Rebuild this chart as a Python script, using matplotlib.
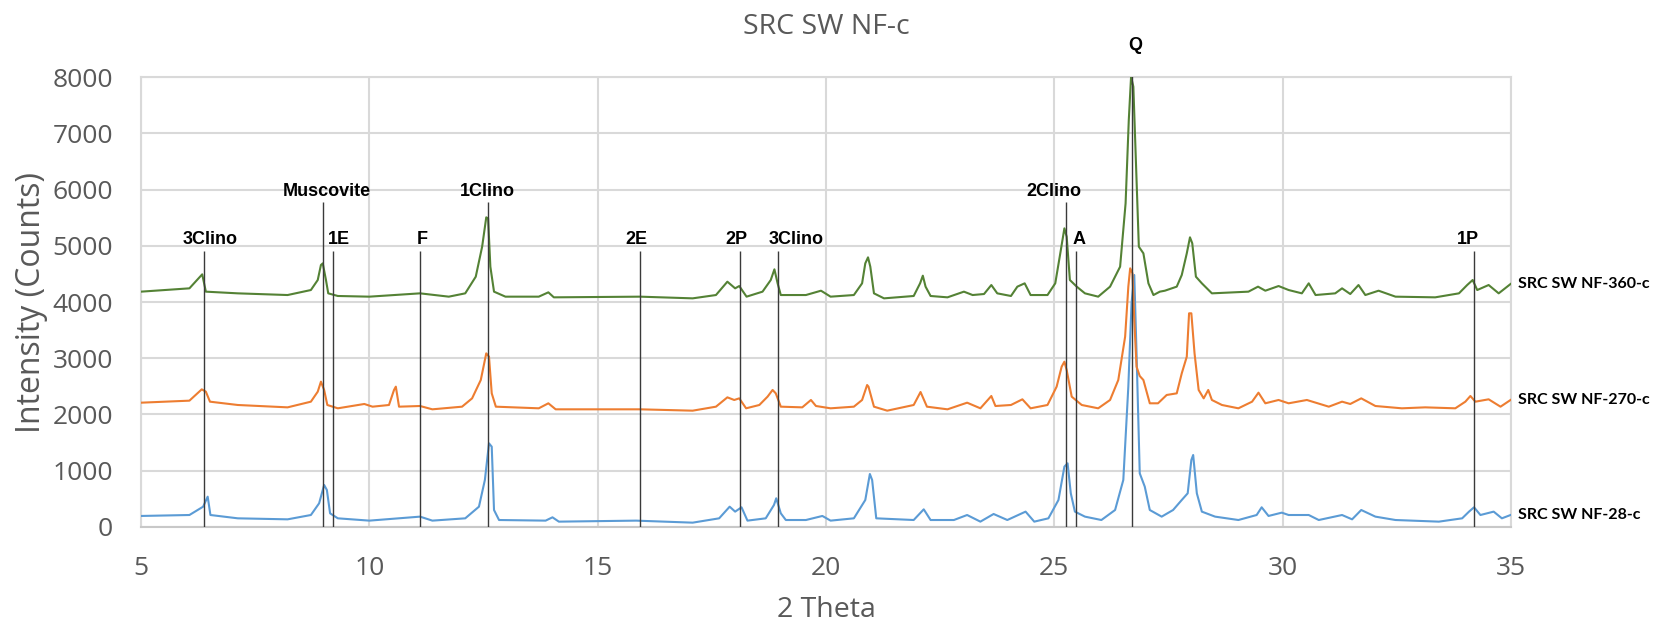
import matplotlib
matplotlib.use('Agg')
import matplotlib.pyplot as plt

# 2 theta / intensity points, one pair of lists per sample
x_360 = [5.00, 6.06, 6.34, 6.42, 7.12, 8.21, 8.72, 8.87, 8.94, 8.98, 9.05, 9.10, 9.31, 10.00,
         11.11, 11.74, 12.10, 12.33, 12.47, 12.56, 12.60, 12.65, 12.73, 12.98, 13.71, 13.92,
         14.04, 15.93, 17.08, 17.59, 17.84, 18.01, 18.10, 18.26, 18.61, 18.79, 18.87, 18.94,
         19.01, 19.56, 19.89, 20.10, 20.61, 20.79, 20.86, 20.92, 20.97, 21.05, 21.27, 21.92,
         22.06, 22.12, 22.18, 22.29, 22.66, 23.02, 23.21, 23.46, 23.62, 23.75, 24.05, 24.19,
         24.35, 24.48, 24.85, 25.02, 25.13, 25.22, 25.27, 25.34, 25.49, 25.67, 25.96, 26.22,
         26.44, 26.56, 26.63, 26.68, 26.73, 26.78, 26.85, 26.95, 27.06, 27.17, 27.31, 27.42,
         27.68, 27.79, 27.90, 27.97, 28.02, 28.10, 28.23, 28.45, 29.25, 29.46, 29.62, 29.91,
         30.13, 30.42, 30.57, 30.72, 31.15, 31.30, 31.48, 31.66, 31.81, 32.10, 32.47, 33.34,
         33.86, 34.04, 34.16, 34.26, 34.51, 34.73, 34.99]
y_360 = [4184, 4243, 4492, 4184, 4154, 4124, 4213, 4391, 4658, 4687, 4391, 4154, 4107, 4095,
         4154, 4095, 4154, 4450, 4984, 5505, 5487, 4628, 4184, 4095, 4095, 4172,
         4083, 4095, 4065, 4124, 4361, 4243, 4284, 4095, 4184, 4391, 4581, 4332,
         4124, 4124, 4201, 4095, 4124, 4332, 4687, 4794, 4628, 4154, 4065, 4107,
         4332, 4468, 4273, 4107, 4083, 4184, 4124, 4142, 4302, 4154, 4107, 4273,
         4332, 4124, 4124, 4332, 4865, 5310, 5161, 4391, 4273, 4154, 4095, 4273,
         4628, 5754, 7236, 8006, 7828, 6643, 4984, 4865, 4332, 4124, 4184, 4201,
         4273, 4480, 4865, 5150, 5043, 4450, 4332, 4154, 4184, 4273, 4201, 4284,
         4213, 4154, 4332, 4124, 4154, 4243, 4142, 4302, 4124, 4201, 4095, 4083,
         4154, 4302, 4391, 4213, 4302, 4154, 4320]

x_270 = [5.00, 6.06, 6.33, 6.42, 6.51, 7.12, 8.21, 8.72, 8.87, 8.94, 9.01, 9.08, 9.31, 9.89,
         10.07, 10.43, 10.54, 10.58, 10.65, 11.11, 11.38, 12.03, 12.25, 12.44, 12.56, 12.62,
         12.68, 12.77, 13.71, 13.92, 14.08, 15.93, 17.08, 17.59, 17.84, 17.99, 18.10, 18.25,
         18.54, 18.72, 18.83, 18.90, 19.01, 19.48, 19.67, 19.78, 20.10, 20.61, 20.79, 20.90,
         20.93, 21.05, 21.34, 21.92, 22.07, 22.21, 22.66, 23.09, 23.38, 23.62, 23.71, 24.05,
         24.30, 24.48, 24.85, 25.05, 25.16, 25.22, 25.27, 25.38, 25.60, 25.96, 26.22, 26.40,
         26.55, 26.62, 26.66, 26.71, 26.75, 26.80, 26.87, 26.95, 27.09, 27.27, 27.46, 27.68,
         27.79, 27.90, 27.95, 28.00, 28.07, 28.16, 28.27, 28.37, 28.45, 28.67, 29.03, 29.33,
         29.47, 29.62, 29.91, 30.13, 30.53, 31.01, 31.30, 31.48, 31.72, 32.03, 32.61, 33.12,
         33.78, 34.00, 34.11, 34.22, 34.51, 34.77, 34.99]
y_270 = [2210, 2246, 2447, 2406, 2228, 2169, 2127, 2228, 2406, 2584, 2436, 2169, 2110, 2187,
         2139, 2169, 2436, 2495, 2139, 2151, 2092, 2139, 2287, 2613, 3087, 3028,
         2376, 2139, 2110, 2199, 2092, 2092, 2068, 2139, 2305, 2258, 2287, 2110,
         2169, 2317, 2436, 2376, 2139, 2127, 2258, 2151, 2110, 2139, 2258, 2524,
         2495, 2139, 2068, 2169, 2400, 2139, 2092, 2210, 2110, 2329, 2151, 2169,
         2270, 2110, 2169, 2495, 2850, 2939, 2791, 2317, 2169, 2110, 2258, 2613,
         3384, 4273, 4599, 4510, 3680, 2850, 2684, 2613, 2199, 2199, 2347, 2376,
         2732, 3028, 3799, 3799, 3087, 2436, 2287, 2436, 2258, 2169, 2110, 2228,
         2388, 2199, 2258, 2199, 2258, 2139, 2228, 2187, 2287, 2151, 2110, 2127,
         2110, 2228, 2329, 2228, 2270, 2139, 2258]

x_28 = [5.00, 6.06, 6.36, 6.46, 6.52, 7.12, 8.21, 8.72, 8.90, 9.01, 9.07, 9.14, 9.31, 10.00,
        11.11, 11.38, 12.10, 12.40, 12.53, 12.62, 12.68, 12.73, 12.84, 13.86, 14.01, 14.15,
        15.84, 17.08, 17.66, 17.89, 18.01, 18.15, 18.28, 18.68, 18.86, 18.91, 19.01, 19.12,
        19.56, 19.92, 20.10, 20.61, 20.86, 20.96, 21.01, 21.10, 21.92, 22.14, 22.29, 22.80,
        23.09, 23.38, 23.67, 23.97, 24.37, 24.56, 24.87, 25.09, 25.22, 25.29, 25.36, 25.45,
        25.67, 26.03, 26.33, 26.51, 26.62, 26.69, 26.75, 26.80, 26.87, 26.98, 27.09, 27.35,
        27.60, 27.79, 27.92, 28.00, 28.04, 28.12, 28.23, 28.52, 29.03, 29.43, 29.54, 29.69,
        29.98, 30.13, 30.57, 30.79, 31.30, 31.52, 31.72, 32.03, 32.47, 33.42, 33.93, 34.08,
        34.19, 34.33, 34.62, 34.80, 34.99]
y_28 = [196, 213, 361, 539, 213, 154, 136, 213, 421, 747, 658, 243, 154, 113,
        184, 113, 154, 361, 836, 1487, 1428, 302, 124, 113, 172, 95,
        113, 77, 154, 361, 273, 350, 113, 154, 391, 510, 243, 124,
        124, 196, 113, 154, 480, 942, 836, 154, 124, 314, 124, 124,
        213, 95, 231, 124, 273, 95, 154, 480, 1073, 1132, 599, 273,
        184, 124, 302, 836, 2495, 3976, 4480, 3087, 954, 717, 302, 184,
        302, 480, 599, 1191, 1280, 599, 273, 184, 124, 213, 350, 196,
        255, 213, 213, 124, 213, 136, 302, 184, 124, 95, 154, 273,
        350, 213, 273, 154, 213]

series_names = ['SRC SW NF-28-c', 'SRC SW NF-270-c', 'SRC SW NF-360-c']

# phase markers: position (2 theta), height of the marker line, label
marker_pos = [6.39, 8.98, 9.20, 11.11, 12.59, 15.93, 18.12, 18.95, 25.26, 25.48, 26.69, 34.18]
marker_top = [4900, 5770, 4900, 4900, 5770, 4900, 4900, 4900, 5770, 4900, 8360, 4900]
marker_names = ['3Clino', 'Muscovite', '1E', 'F', '1Clino', '2E', '2P', '3Clino',
                '2Clino', 'A', 'Q', '1P']

x_ticks = [5, 10, 15, 20, 25, 30, 35]
y_ticks = [0, 1000, 2000, 3000, 4000, 5000, 6000, 7000, 8000]

GREY = '#595959'
GRID = '#d9d9d9'
colors = ['#5b9bd5', '#ed7d31', '#548235']
# horizontal nudge of each marker label (points), labels were placed by hand
label_dx = [4, 3, 4.5, 1.7, 0, -2.5, -3, 12.9, -9.1, 1.7, 2.8, -4]

fig = plt.figure(figsize=(16.57, 6.35), dpi=100)
ax = fig.add_axes([0.0851, 0.1701, 0.8268, 0.7086])

curves = [(x_28, y_28), (x_270, y_270), (x_360, y_360)]
for (xs, ys), c, name in zip(curves, colors, series_names):
    ax.plot(xs, ys, color=c, lw=1.5, zorder=3)
    ax.annotate(name, xy=(xs[-1], ys[-1]), xytext=(5, 0), textcoords='offset points',
                ha='left', va='center', fontsize=11.5, fontweight='bold',
                family=['Lato', 'DejaVu Sans'], color='black', annotation_clip=False)

# vertical phase lines with their labels
ax.vlines(marker_pos, 0, marker_top, colors='#3a3a3a', lw=1.0, zorder=4)
for p, t, s, dx in zip(marker_pos, marker_top, marker_names, label_dx):
    ax.annotate(s, xy=(p, t), xytext=(dx, 5), textcoords='offset points',
                ha='center', va='baseline', fontsize=13, fontweight='bold',
                family=['Liberation Sans', 'DejaVu Sans'], color='black',
                annotation_clip=False)

ax.set_xlim(5, 35)
ax.set_ylim(0, 8000)
ax.set_xticks(x_ticks)
ax.set_yticks(y_ticks)
ax.grid(True, color=GRID, lw=1.5, zorder=0)
ax.set_axisbelow(True)
for sp in ax.spines.values():
    sp.set_color(GRID)
    sp.set_linewidth(1.5)
ax.spines['bottom'].set_color('#c8c8c8')
ax.tick_params(length=0, labelsize=19, labelcolor=GREY)
ax.tick_params(axis='y', pad=20)
ax.tick_params(axis='x', pad=21)
for lab in ax.get_xticklabels() + ax.get_yticklabels():
    lab.set_family(['Open Sans', 'DejaVu Sans'])

fig.text(0.4985, 0.957, 'SRC SW NF-c', ha='center', va='center', fontsize=20.5,
         color=GREY, family=['Open Sans', 'DejaVu Sans'])
fig.text(0.4985, 0.040, '2 Theta', ha='center', va='center', fontsize=20.5,
         color=GREY, family=['Open Sans', 'DejaVu Sans'])
fig.text(0.019, 0.523, 'Intensity (Counts)', ha='center', va='center', rotation=90,
         fontsize=23, color=GREY, family=['Open Sans', 'DejaVu Sans'])

fig.savefig('out.png', dpi=100, facecolor='white')
